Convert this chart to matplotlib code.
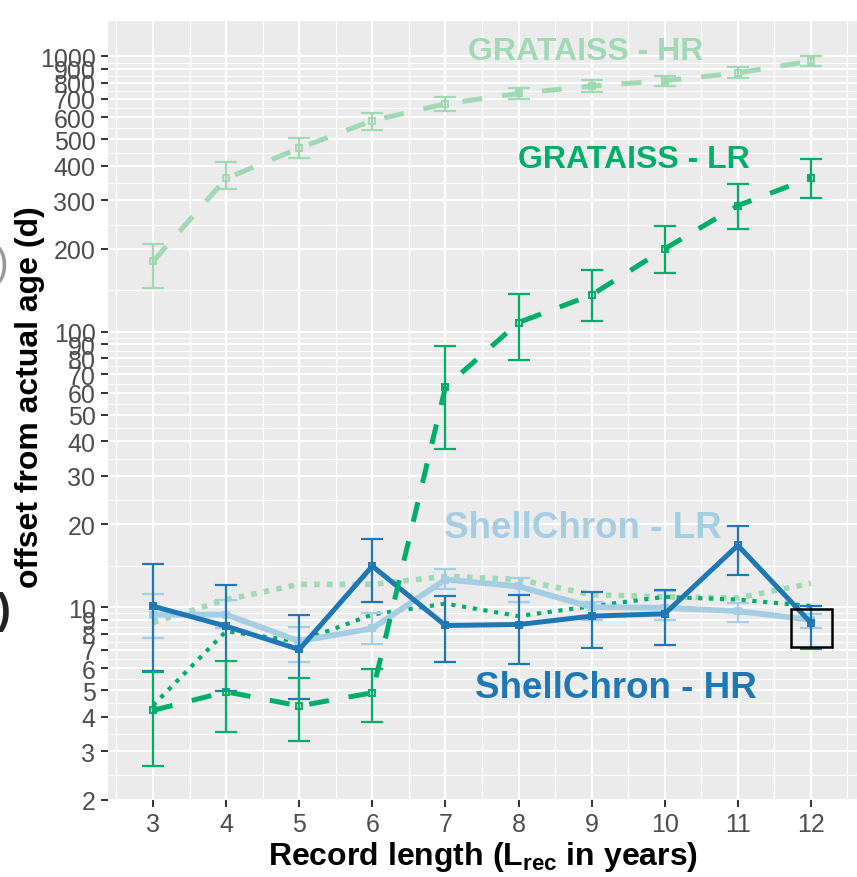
import numpy as np
import matplotlib
matplotlib.use('Agg')
import matplotlib.pyplot as plt
from matplotlib.patches import Rectangle
from matplotlib.ticker import NullFormatter

plt.rcParams['font.family'] = ['Liberation Sans', 'DejaVu Sans']
plt.rcParams['mathtext.fontset'] = 'custom'
plt.rcParams['mathtext.rm'] = 'Liberation Sans:bold'
plt.rcParams['mathtext.default'] = 'rm'

# record lengths
years = [3, 4, 5, 6, 7, 8, 9, 10, 11, 12]

# GRATAISS - HR (mean, lower, upper)
grat_hr = [180, 360, 464, 584, 672, 733, 780, 815, 870, 960]
grat_hr_lo = [144, 329, 427, 542, 632, 700, 741, 778, 834, 925]
grat_hr_hi = [209, 413, 505, 623, 714, 765, 820, 851, 912, 1000]

# GRATAISS - LR
grat_lr = [4.22, 4.93, 4.38, 4.89, 63, 108, 136, 200, 287, 362]
grat_lr_lo = [2.65, 3.53, 3.27, 3.84, 37.5, 78.9, 109.6, 163.6, 236.7, 306.6]
grat_lr_hi = [5.81, 6.4, 5.51, 5.98, 88.7, 137, 168, 241, 342.6, 424.6]

# ShellChron - LR
sc_lr = [9.4, 9.4, 7.53, 8.37, 12.6, 11.9, 10.0, 9.95, 9.67, 9.0]
sc_lr_lo = [7.74, 8.4, 6.33, 7.32, 11.6, 10.45, 9.0, 9.0, 8.8, 8.37]
sc_lr_hi = [11.17, 10.65, 8.5, 9.54, 13.77, 12.77, 10.4, 11.4, 10.36, 9.46]

# ShellChron - HR
sc_hr = [10.08, 8.53, 7.02, 14.1, 8.58, 8.65, 9.28, 9.46, 16.77, 8.77]
sc_hr_lo = [5.86, 4.96, 4.63, 10.4, 6.32, 6.23, 7.12, 7.28, 13.1, 7.02]
sc_hr_hi = [14.4, 12.0, 9.4, 17.7, 11.0, 11.1, 11.33, 11.5, 19.75, 10.13]

# dotted series (no error bars)
dot_light = [8.8, 10.65, 12.1, 12.1, 12.95, 12.6, 11.1, 10.9, 10.8, 12.2]
dot_green = [4.4, 8.18, 7.5, 9.4, 10.3, 9.28, 10.08, 10.9, 10.65, 10.1]

y_major = [2, 3, 4, 5, 6, 7, 8, 9, 10, 20, 30, 40, 50, 60, 70, 80, 90,
           100, 200, 300, 400, 500, 600, 700, 800, 900, 1000]

c_lgreen = '#A1D9B4'
c_green = '#00AE6B'
c_lblue = '#A6CEE3'
c_dblue = '#1F78B4'

fig = plt.figure(figsize=(8.57, 8.78), dpi=100)
ax = fig.add_axes([108 / 857, 77.3 / 878, 749 / 857, 778.7 / 878])
ax.set_facecolor('#EBEBEB')
ax.set_yscale('log')

x = np.array(years)


def draw(vals, lo, hi, color, lw, ls, z):
    vals = np.array(vals)
    err = [vals - np.array(lo), np.array(hi) - vals]
    ax.errorbar(x, vals, yerr=err, fmt='none', ecolor=color, elinewidth=1.6,
                capsize=8, capthick=1.6, zorder=z)
    ax.plot(x, vals, color=color, lw=lw, linestyle=ls, zorder=z + 0.1,
            dash_capstyle='butt')
    ax.plot(x, vals, 's', ms=5, mfc='none', mec=color, mew=1.4, zorder=z + 0.2)


ax.plot(x, dot_light, color=c_lgreen, lw=4, linestyle=(0, (1, 1.3)), zorder=3)
ax.plot(x, dot_green, color=c_green, lw=3, linestyle=(0, (1, 1.6)), zorder=3.5)
draw(grat_hr, grat_hr_lo, grat_hr_hi, c_lgreen, 3.6, (0, (4, 4)), 4)
draw(sc_lr, sc_lr_lo, sc_lr_hi, c_lblue, 4.2, '-', 5)
draw(sc_hr, sc_hr_lo, sc_hr_hi, c_dblue, 3.6, '-', 6)
draw(grat_lr, grat_lr_lo, grat_lr_hi, c_green, 3.6, (0, (4, 4)), 7)

ax.add_patch(Rectangle((11.73, 7.16), 0.56, 9.88 - 7.16, fill=False,
                       edgecolor='black', lw=1.8, zorder=9))

ax.text(8.92, 1048, 'GRATAISS - HR', color=c_lgreen, fontsize=23,
        fontweight='bold', ha='center', va='center', zorder=10)
ax.text(9.58, 425, 'GRATAISS - LR', color=c_green, fontsize=23,
        fontweight='bold', ha='center', va='center', zorder=10)
ax.text(8.875, 19.4, 'ShellChron - LR', color=c_lblue, fontsize=26.5,
        fontweight='bold', ha='center', va='center', zorder=10)
ax.text(9.33, 5.1, 'ShellChron - HR', color=c_dblue, fontsize=26.5,
        fontweight='bold', ha='center', va='center', zorder=10)

ax.set_xlim(2.384, 12.63)
ax.set_ylim(2.0, 1343)

ax.set_xticks(years)
ax.set_xticklabels([str(v) for v in years])
ax.set_xticks(np.arange(2.5, 13, 1), minor=True)
ax.set_yticks(y_major)
ax.set_yticklabels([str(v) for v in y_major])
y_minor = np.sqrt(np.array(y_major[:-1]) * np.array(y_major[1:]))
ax.set_yticks(y_minor, minor=True)
ax.yaxis.set_minor_formatter(NullFormatter())
ax.xaxis.set_minor_formatter(NullFormatter())

ax.grid(which='major', color='white', lw=1.5)
ax.grid(which='minor', color='white', lw=0.8)
ax.set_axisbelow(True)
for s in ax.spines.values():
    s.set_visible(False)
ax.tick_params(which='major', length=5, width=1.4, color='#333333',
               labelsize=18, labelcolor='#4D4D4D', pad=4)
ax.tick_params(which='minor', length=0)

ax.set_xlabel(r'Record length (L$_{rec}$ in years)', fontsize=23,
              fontweight='bold', labelpad=2)
fig.text(30 / 857, 1 - 397 / 878, 'offset from actual age (d)', fontsize=23,
         fontweight='bold', rotation=90, ha='center', va='center')

# cropped remnants of neighbouring panel labels
fig.text(9 / 857, 1 - 265 / 878, ')', fontsize=30, color='#999999',
         ha='right', va='center')
fig.text(11 / 857, 1 - 612 / 878, ')', fontsize=30, color='#222222',
         fontweight='bold', ha='right', va='center')

fig.savefig('out.png', dpi=100)
